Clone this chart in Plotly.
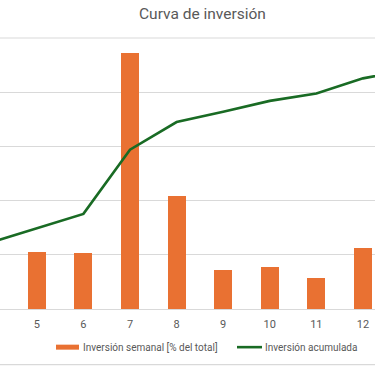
import plotly.graph_objects as go

weeks = [4, 5, 6, 7, 8, 9, 10, 11, 12, 13]
tick_labels = [str(w) for w in weeks]
weekly_pct = [5.0, 5.3, 5.2, 23.6, 10.4, 3.6, 3.9, 2.9, 5.65, 3.4]
cumulative_pct = [24.5, 29.7, 35.1, 58.8, 69.0, 72.8, 76.8, 79.5, 85.1, 88.3]

W, H = 375, 366
PLOT_TOP, PLOT_BOTTOM = 38, 309.3
PH = PLOT_BOTTOM - PLOT_TOP

def px_x(px):
    return px / W

def px_y(py):
    return (PLOT_BOTTOM - py) / PH

ORANGE = "#E97132"
GREEN = "#196B24"
GRAY_TXT = "#595959"
GRID = "#D9D9D9"
FONT = "Roboto"

fig = go.Figure()
fig.add_trace(go.Bar(
    x=weeks, y=weekly_pct, name="Inversión semanal [% del total]",
    marker=dict(color=ORANGE, line=dict(width=0)),
    width=0.39, yaxis="y", showlegend=False,
))
fig.add_trace(go.Scatter(
    x=weeks, y=cumulative_pct, name="Inversión acumulada", mode="lines",
    line=dict(color=GREEN, width=2.6), yaxis="y2", showlegend=False,
))

fig.update_layout(
    width=W, height=H,
    margin=dict(l=0, r=0, t=PLOT_TOP, b=H - PLOT_BOTTOM, pad=0),
    paper_bgcolor="white", plot_bgcolor="white",
    font=dict(family=FONT, color=GRAY_TXT, size=11),
    xaxis=dict(range=[4.21, 12.258], tickvals=weeks, ticktext=tick_labels,
               showgrid=False, zeroline=False, showline=True, linecolor=GRID,
               linewidth=1, ticks="outside", ticklen=5, tickcolor="rgba(0,0,0,0)",
               tickfont=dict(size=11, color=GRAY_TXT, family=FONT)),
    yaxis=dict(range=[0, 25], dtick=5, showgrid=True, gridcolor=GRID, gridwidth=1,
               showticklabels=False, zeroline=False, showline=False),
    yaxis2=dict(range=[0, 100], overlaying="y", side="right", showgrid=False,
                showticklabels=False, zeroline=False, showline=False),
    bargap=0,
)

# top gridline (25 / 100)
fig.add_shape(type="line", xref="paper", yref="paper", x0=0, x1=1, y0=1, y1=1,
              line=dict(color=GRID, width=1))
# bottom chart border
fig.add_shape(type="line", xref="paper", yref="paper", x0=0, x1=1,
              y0=px_y(365), y1=px_y(365), line=dict(color=GRID, width=1.2))

# title
fig.add_annotation(text="Curva de inversión", xref="paper", yref="paper",
                   x=px_x(202.5), y=px_y(14), xanchor="center", yanchor="middle",
                   showarrow=False, font=dict(size=15.5, color=GRAY_TXT, family=FONT))

# legend (manual)
ly = 347.5
fig.add_shape(type="rect", xref="paper", yref="paper",
              x0=px_x(56), x1=px_x(79), y0=px_y(ly - 2.5), y1=px_y(ly + 2.5),
              fillcolor=ORANGE, line=dict(width=0))
fig.add_annotation(text="Inversión semanal [% del total]", xref="paper", yref="paper",
                   x=px_x(80.5), y=px_y(ly), xanchor="left", yanchor="middle",
                   showarrow=False, font=dict(size=10, color=GRAY_TXT, family=FONT))
fig.add_shape(type="line", xref="paper", yref="paper",
              x0=px_x(237), x1=px_x(262), y0=px_y(ly), y1=px_y(ly),
              line=dict(color=GREEN, width=2.6))
fig.add_annotation(text="Inversión acumulada", xref="paper", yref="paper",
                   x=px_x(262.5), y=px_y(ly), xanchor="left", yanchor="middle",
                   showarrow=False, font=dict(size=10, color=GRAY_TXT, family=FONT))

fig.write_html("out.html", config={"displayModeBar": False, "staticPlot": True},
               post_script="document.body.style.margin='0px';document.body.style.overflow='hidden';")
